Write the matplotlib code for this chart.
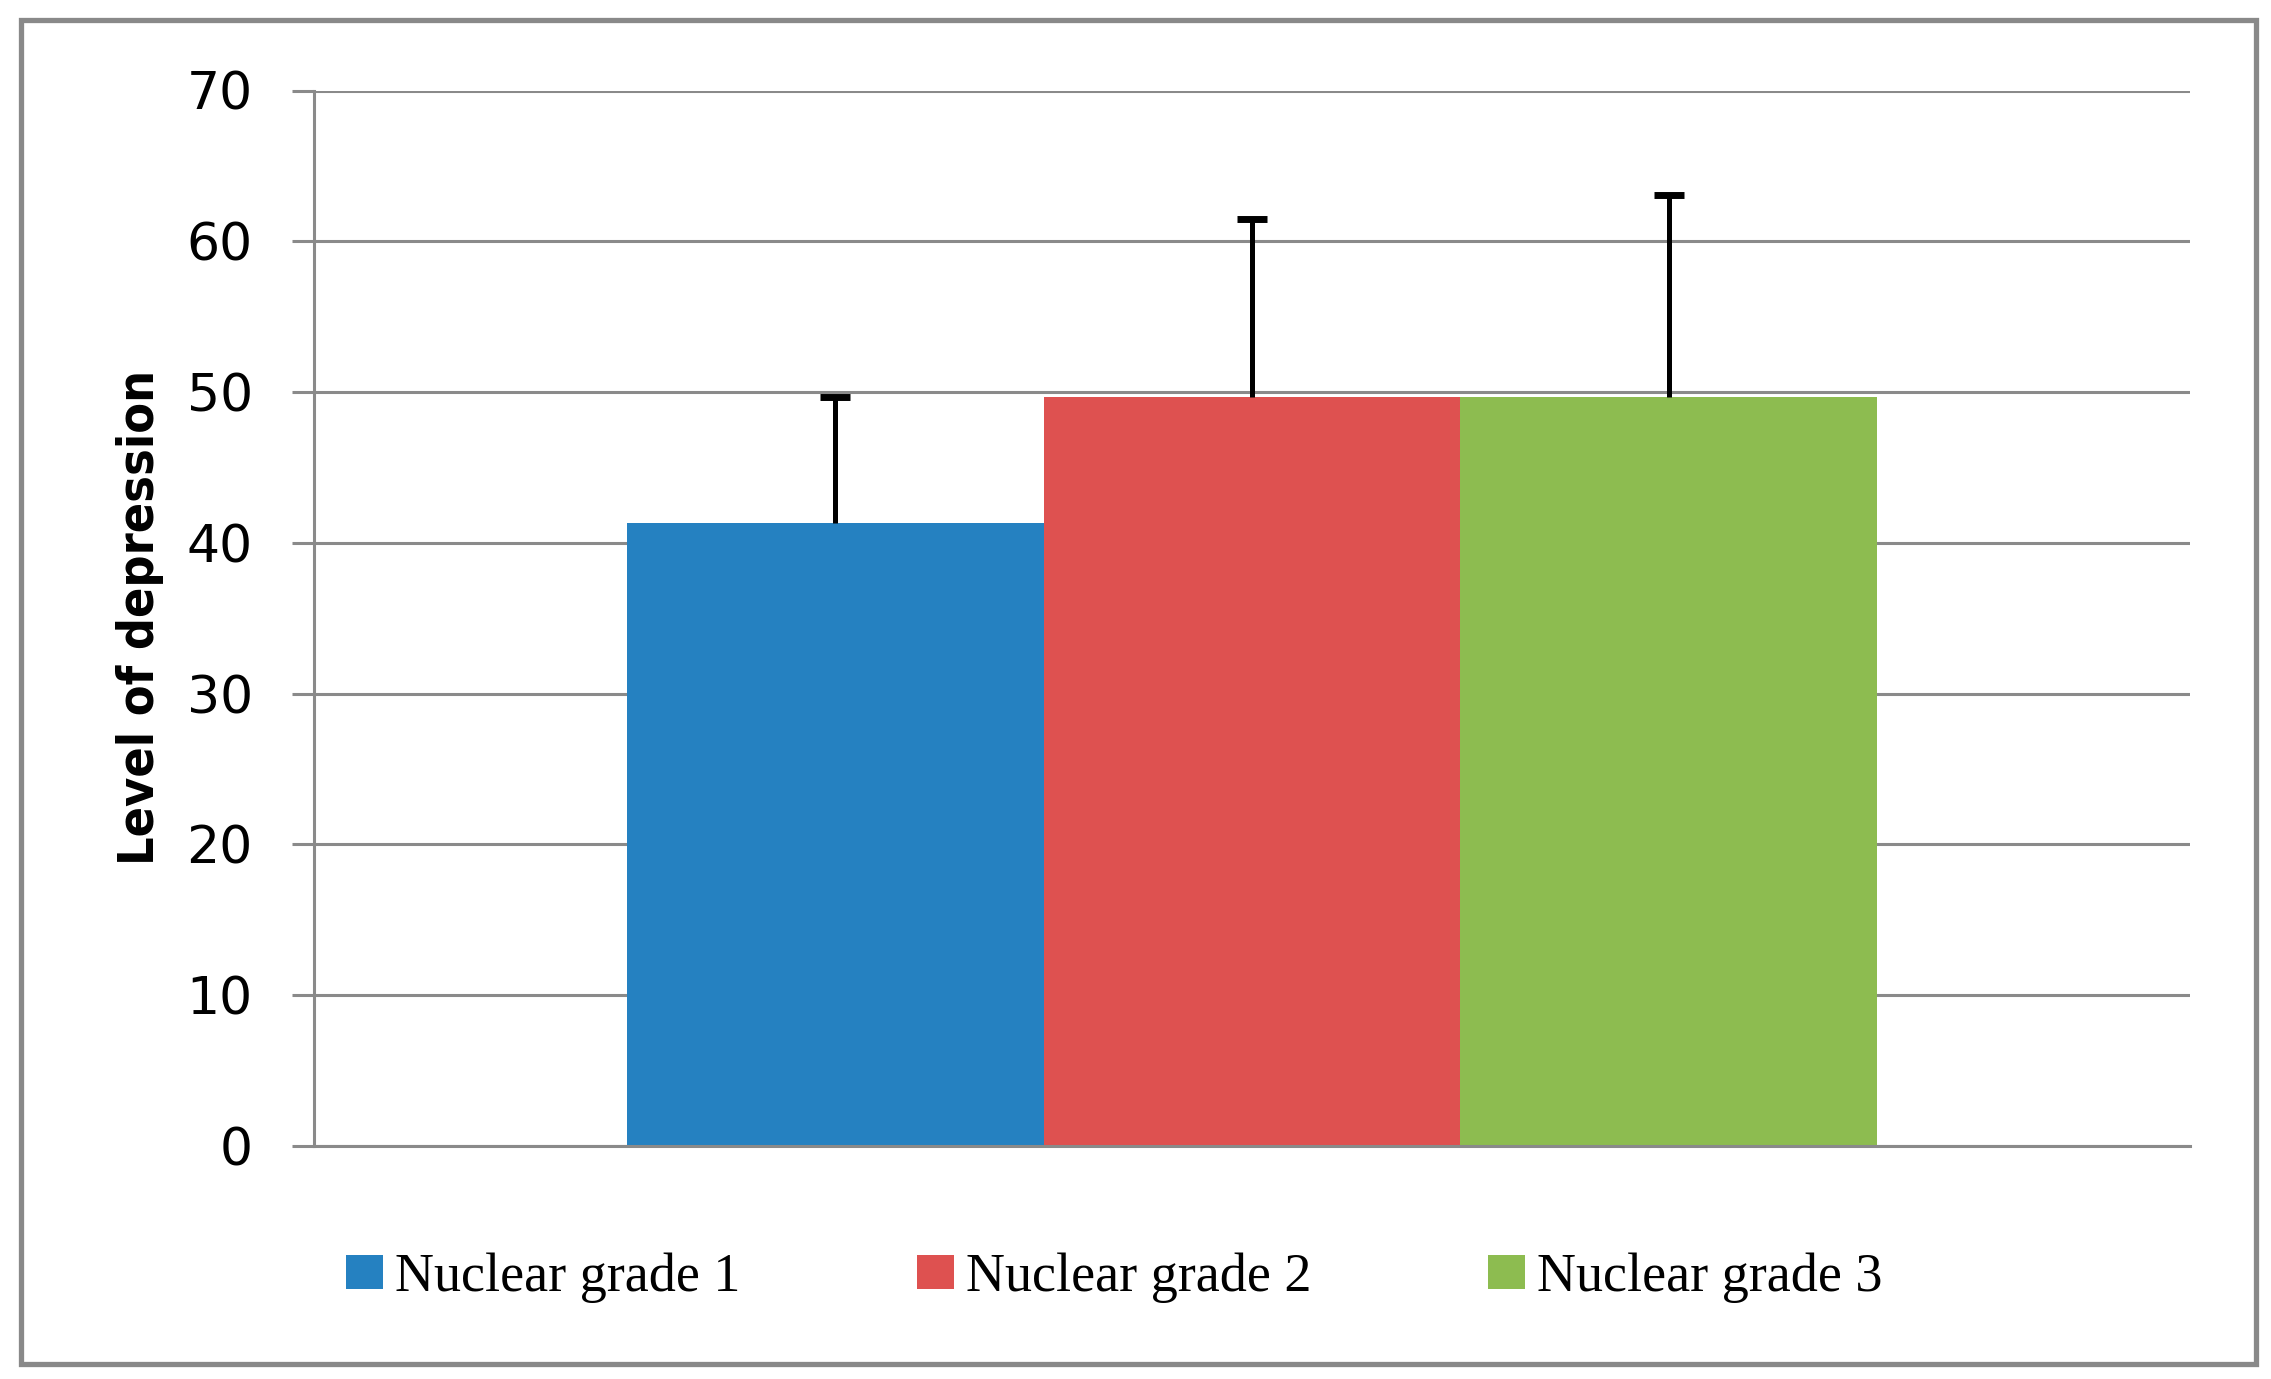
import matplotlib
matplotlib.use("Agg")
import matplotlib.pyplot as plt
from matplotlib.patches import Rectangle

# Data
series = ["Nuclear grade 1", "Nuclear grade 2", "Nuclear grade 3"]
means = [41.3, 49.7, 49.7]
errors = [8.4, 11.8, 13.4]
colors = ["#2581c1", "#de5150", "#8dbc50"]
yticks = [0, 10, 20, 30, 40, 50, 60, 70]
ylabel = "Level of depression"

W, H = 2271, 1379
fig = plt.figure(figsize=(W / 100, H / 100), dpi=100)

# outer border
fig.patches.append(Rectangle((20.5 / W, 1 - 1363.5 / H), (2256 - 20.5) / W, (1363.5 - 20.3) / H,
                             transform=fig.transFigure, fill=False, edgecolor="#898989",
                             linewidth=3.8, zorder=0))

left, right = 314 / W, 2190 / W
bottom, top = 1 - 1146 / H, 1 - 90.5 / H
ax = fig.add_axes([left, bottom, right - left, top - bottom])

grid_c = "#8a8a8a"
bw = 1 / 1.5 / 3
offsets = [-bw, 0, bw]
for i in range(3):
    bc = ax.bar(offsets[i], means[i], width=bw, color=colors[i], label=series[i], zorder=2,
                yerr=[[0], [errors[i]]],
                error_kw=dict(ecolor="black", elinewidth=3.6, capsize=11, capthick=5, zorder=3))
    caps = bc.errorbar.lines[1]
    if len(caps) == 2:
        caps[0].set_visible(False)

ax.set_xlim(-0.5, 0.5)
ax.set_ylim(0, 70)
ax.set_yticks(yticks)
ax.set_yticklabels([str(t) for t in yticks])
ax.set_xticks([])
ax.yaxis.grid(True, color=grid_c, linewidth=2.2, zorder=0)
ax.set_axisbelow(True)
for s in ["top", "right"]:
    ax.spines[s].set_visible(False)
for s in ["left", "bottom"]:
    ax.spines[s].set_color(grid_c)
    ax.spines[s].set_linewidth(2.2)
ax.tick_params(axis="y", direction="out", length=16, width=2.2, color=grid_c,
               pad=28, labelsize=37.5, labelcolor="black")
for lab in ax.get_yticklabels():
    lab.set_family("DejaVu Sans")

ax.set_ylabel(ylabel, fontsize=36, fontweight="bold", family=["DejaVu Sans"],
              fontstretch="condensed", va="center")
ax.yaxis.set_label_coords(-0.0925, 0.501)

handles, labels = ax.get_legend_handles_labels()
leg = fig.legend(handles, labels, loc="center left", bbox_to_anchor=(346 / W, 1 - 1278 / H),
                 ncol=3, frameon=False, borderpad=0, borderaxespad=0,
                 handlelength=0.69, handleheight=0.6, handletextpad=0.22,
                 columnspacing=3.25,
                 prop={"family": ["Liberation Serif", "DejaVu Serif"], "size": 39})

fig.savefig("out.png", dpi=100, facecolor="white")
